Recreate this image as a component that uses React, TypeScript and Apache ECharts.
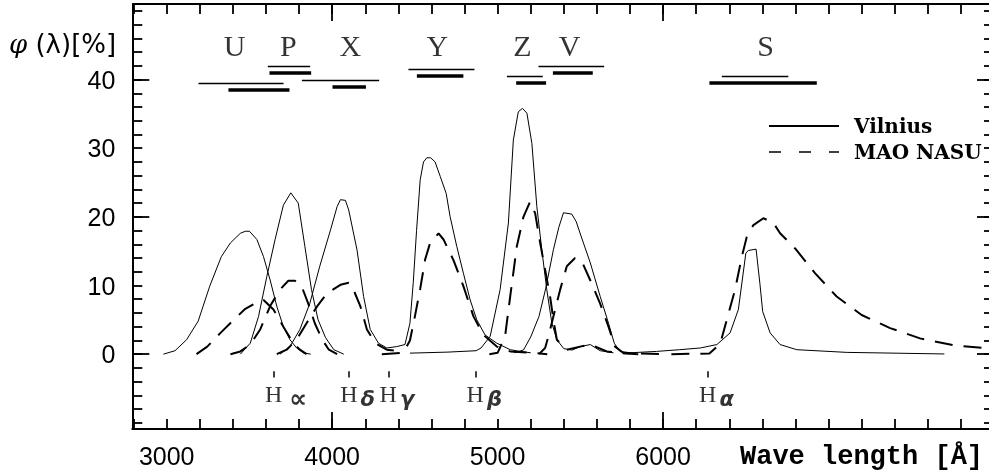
import { useEffect, useRef } from 'react';
import * as echarts from 'echarts';

// ---------- Data (wavelength in Å, response φ(λ) in %) ----------
const vilniusU = [[2980,0],[3050,0.5],[3120,2.1],[3190,4.8],[3260,9.9],[3330,14.2],[3385,16.2],[3445,17.6],[3475,17.9],[3500,17.9],[3545,16.7],[3585,14.2],[3625,10.8],[3665,7.0],[3705,4.0],[3745,2.1],[3785,0.9],[3825,0.2],[3870,0]];
const vilniusP = [[3445,0],[3505,1.6],[3555,5.5],[3605,11.3],[3655,16.7],[3705,21.7],[3750,23.5],[3795,22.0],[3835,15.7],[3875,9.4],[3915,5.0],[3960,2.4],[4010,0.65],[4070,0]];
const vilniusX = [[3685,0],[3745,1.1],[3805,3.6],[3865,7.4],[3925,12.8],[3990,18.1],[4030,21.5],[4050,22.5],[4080,22.4],[4100,21.0],[4150,15.2],[4190,8.4],[4230,3.6],[4280,1.6],[4330,0.9],[4390,1.1],[4440,1.4]];
const vilniusY = [[4440,1.4],[4470,4.5],[4490,10.4],[4510,18.0],[4532,25.4],[4552,28.0],[4572,28.6],[4595,28.6],[4622,28.0],[4653,25.9],[4689,23.4],[4713,20.0],[4753,15.7],[4793,11.8],[4834,7.9],[4874,5.0],[4924,2.8],[4995,1.6],[5076,0.65],[5136,0.4],[5200,0.2]];
const vilniusZ = [[4470,0.15],[4700,0.3],[4870,0.5],[4900,0.9],[4955,2.6],[5015,9.4],[5065,19.1],[5095,31.2],[5125,35.3],[5150,35.8],[5177,35.1],[5207,30.7],[5237,21.5],[5267,15.2],[5297,9.4],[5328,4.5],[5358,2.1],[5400,0.8],[5450,0.6],[5500,1.1],[5560,1.4],[5620,0.5],[5700,0.2]];
const vilniusV = [[5100,0.2],[5156,0.6],[5200,2.5],[5250,5.5],[5290,9.5],[5337,15.2],[5370,18.5],[5398,20.6],[5448,20.4],[5475,19.3],[5500,17.5],[5560,13.3],[5620,8.4],[5670,4.5],[5705,1.6],[5740,0.4],[5820,0.15]];
const vilniusS = [[5760,0.15],[5960,0.4],[6100,0.65],[6225,0.9],[6325,1.4],[6405,3.1],[6455,6.5],[6500,14.7],[6515,15.1],[6562,15.3],[6585,10.3],[6602,6.2],[6647,3.1],[6707,1.4],[6808,0.65],[7110,0.26],[7700,0.03]];

const maoU = [[3180,0],[3245,1.1],[3325,3.1],[3405,5.0],[3475,6.6],[3555,7.7],[3585,7.9],[3645,6.5],[3705,4.0],[3765,1.6],[3805,0.65],[3845,0]];
const maoP = [[3385,0],[3445,0.4],[3505,1.4],[3565,3.6],[3625,7.0],[3685,9.4],[3735,10.7],[3775,10.7],[3815,9.9],[3855,7.4],[3895,4.5],[3940,2.1],[3980,0.65],[4030,0]];
const maoX = [[3665,0],[3725,0.65],[3785,2.1],[3845,4.5],[3910,7.0],[3970,8.9],[4050,10.1],[4100,10.4],[4120,9.9],[4170,7.0],[4210,3.6],[4260,1.6],[4330,0.65],[4410,0.4]];
const maoY = [[4300,0],[4430,0.2],[4470,2.0],[4500,5.5],[4532,9.5],[4562,13.8],[4592,16.2],[4643,17.6],[4673,16.7],[4733,13.7],[4793,9.9],[4854,5.5],[4914,2.8],[4995,1.1],[5076,0.4],[5216,0.17],[5300,0]];
const maoZ = [[4950,0],[5000,0.2],[5045,2.6],[5076,8.4],[5116,15.7],[5156,20.0],[5196,22.2],[5227,20.5],[5257,16.2],[5287,12.3],[5317,8.4],[5337,5.0],[5358,2.1],[5418,0.65],[5498,1.1],[5559,1.4],[5660,0.4],[5740,0.17],[5850,0]];
const maoV = [[5250,0],[5287,0.9],[5307,2.6],[5337,5.5],[5378,9.4],[5418,12.8],[5468,14.0],[5509,13.5],[5559,10.8],[5619,7.4],[5670,4.0],[5710,1.1],[5760,0.17],[6000,0]];
const maoS = [[6050,0],[6280,0.1],[6345,1.5],[6385,5.0],[6435,9.4],[6476,14.2],[6506,17.1],[6546,18.8],[6606,19.8],[6667,19.1],[6707,17.6],[6798,15.4],[6918,11.8],[7049,8.4],[7200,5.7],[7372,3.8],[7553,2.3],[7754,1.3],[7955,0.87],[8000,0.8]];

// Filter names, label wavelengths, and band bars [from, to, level]
const filterNames = ['U', 'P', 'X', 'Y', 'Z', 'V', 'S'];
const filterLabelWave = [3410, 3735, 4110, 4635, 5150, 5435, 6620];
const filterLabelLevel = 44.9;
const thinBands = [[3192,3706,39.5],[3611,3867,42.0],[3817,4284,39.9],[4461,4860,41.5],[5056,5273,40.5],[5247,5644,42.0],[6355,6757,40.5]];
const thickBands = [[3373,3742,38.5],[3621,3873,41.0],[4002,4204,38.9],[4512,4793,40.5],[5112,5293,39.5],[5334,5575,41.0],[6280,6929,39.5]];

// Hydrogen line markers
const hydrogenNames = ['∝', 'δ', 'γ', 'β', 'α'];
const hydrogenWaves = [3648, 4103, 4341, 4867, 6272];
const hydrogenLabelLevel = -5.9;

// Axis ranges, ticks and labels
const xMin = 2792, xMax = 8000, yMin = -10.9, yMax = 51;
const xLabelValues = [3000, 4000, 5000, 6000];
const xMajorTicks = [4000, 6000, 8000];
const yLabelValues = [0, 10, 20, 30, 40];
const yMajorTicks = [0, 20, 40];
const xMinorTicks = [2800,3000,3200,3400,3600,3800,4000,4200,4400,4600,4800,5000,5200,5400,5600,5800,6000,6200,6400,6600,6800,7000,7200,7400,7600,7800,8000];
const yMinorTicks = [-10,-8,-6,-4,-2,0,2,4,6,8,10,12,14,16,18,20,22,24,26,28,30,32,34,36,38,40,42,44,46,48,50];

export default function App() {
  const ref = useRef<HTMLDivElement>(null);
  useEffect(() => {
    if (!ref.current) return;
    const chart = echarts.init(ref.current, null, { renderer: 'svg' });
    const black = '#000';
    const labelFont = { fontFamily: 'Liberation Sans', fontSize: 25, color: black };
    const gridBox = { left: 132.3, right: 6, top: 4, bottom: 46 };
    const pxPerX = (1000 - gridBox.left - gridBox.right) / (xMax - xMin);
    const pxPerY = (475 - gridBox.top - gridBox.bottom) / (yMax - yMin);
    const minorLen = 10, majorLen = 17;

    // top and right frame with inward ticks, plus long ticks on all sides
    const frame: any[] = [
      { coords: [[xMin, yMax], [xMax, yMax]], lineStyle: { width: 2 } },
      { coords: [[xMax, yMin], [xMax, yMax]], lineStyle: { width: 2 } },
    ];
    xMinorTicks.forEach((v) => frame.push({ coords: [[v, yMax], [v, yMax - minorLen / pxPerY]] }));
    yMinorTicks.forEach((v) => frame.push({ coords: [[xMax, v], [xMax - minorLen / pxPerX, v]] }));
    xMajorTicks.forEach((v) => {
      frame.push({ coords: [[v, yMin], [v, yMin + majorLen / pxPerY]] });
      frame.push({ coords: [[v, yMax], [v, yMax - majorLen / pxPerY]] });
    });
    yMajorTicks.forEach((v) => {
      frame.push({ coords: [[xMin, v], [xMin + majorLen / pxPerX, v]] });
      frame.push({ coords: [[xMax, v], [xMax - majorLen / pxPerX, v]] });
    });

    const solid = [vilniusU, vilniusP, vilniusX, vilniusY, vilniusZ, vilniusV, vilniusS].map((d) => ({
      type: 'line', name: 'Vilnius', data: d, symbol: 'none', showSymbol: false,
      itemStyle: { color: black }, lineStyle: { color: black, width: 1 },
    }));
    const dashed = [maoU, maoP, maoX, maoY, maoZ, maoV, maoS].map((d) => ({
      type: 'line', name: 'MAO NASU', data: d, symbol: 'none', showSymbol: false,
      itemStyle: { color: black }, lineStyle: { color: black, width: 2, type: [18, 11] },
    }));

    const option: any = {
      animation: false,
      grid: gridBox,
      xAxis: [{
        type: 'value', min: xMin, max: xMax, splitLine: { show: false },
        axisLine: { show: true, onZero: false, lineStyle: { color: black, width: 2 } },
        axisTick: { show: true, inside: true, length: minorLen, customValues: xMinorTicks, lineStyle: { color: black, width: 1.8 } },
        axisLabel: { show: true, customValues: xLabelValues, margin: 14, formatter: (v: number) => String(v), ...labelFont },
      }],
      yAxis: [{
        type: 'value', min: yMin, max: yMax, splitLine: { show: false },
        axisLine: { show: true, onZero: false, lineStyle: { color: black, width: 2 } },
        axisTick: { show: true, inside: true, length: minorLen, customValues: yMinorTicks, lineStyle: { color: black, width: 1.8 } },
        axisLabel: { show: true, customValues: yLabelValues, margin: 17, formatter: (v: number) => String(v), ...labelFont },
      }],
      legend: {
        orient: 'vertical', left: 763, top: 111, itemWidth: 70, itemHeight: 20, itemGap: 6,
        selectedMode: false,
        itemStyle: { opacity: 0 },
        data: [
          { name: 'Vilnius' },
          { name: 'MAO NASU', lineStyle: { type: [12, 18], width: 1.6 } },
        ],
        textStyle: { fontFamily: 'DejaVu Serif', fontWeight: 'bold', fontSize: 20, color: black, padding: [0, 0, 0, 10] },
      },
      graphic: [
        { type: 'text', x: 9, y: 44, style: { text: '{p|φ} (λ)[%]', rich: { p: { fontStyle: 'italic', fontFamily: 'DejaVu Serif', fontSize: 26 } }, font: '26px "DejaVu Sans"', fill: black, verticalAlign: 'middle', align: 'left' } },
        { type: 'text', x: 740, y: 457, style: { text: 'Wave length [Å]', font: 'bold 27px "Liberation Mono"', fill: black, verticalAlign: 'middle', align: 'left' } },
      ],
      series: [
        ...solid,
        ...dashed,
        { type: 'lines', coordinateSystem: 'cartesian2d', clip: false,
          lineStyle: { color: black, width: 1.8, opacity: 1 }, data: frame },
        { type: 'lines', coordinateSystem: 'cartesian2d',
          lineStyle: { color: black, width: 1.3, opacity: 1 },
          data: thinBands.map((b) => ({ coords: [[b[0], b[2]], [b[1], b[2]]] })) },
        { type: 'lines', coordinateSystem: 'cartesian2d',
          lineStyle: { color: black, width: 3.6, opacity: 1 },
          data: thickBands.map((b) => ({ coords: [[b[0], b[2]], [b[1], b[2]]] })) },
        { type: 'lines', coordinateSystem: 'cartesian2d',
          lineStyle: { color: black, width: 1.5, opacity: 1 },
          data: hydrogenWaves.map((w) => ({ coords: [[w, -2.5], [w, -3.4]] })) },
        { type: 'scatter', symbolSize: 1, itemStyle: { color: 'rgba(0,0,0,0)' },
          data: filterNames.map((n, i) => ({ name: n, value: [filterLabelWave[i], filterLabelLevel] })),
          label: { show: true, position: 'inside', formatter: '{b}', fontFamily: 'Liberation Serif', fontSize: 30, color: black } },
        { type: 'scatter', symbolSize: 1, itemStyle: { color: 'rgba(0,0,0,0)' },
          data: hydrogenNames.map((n, i) => ({ name: n, value: [hydrogenWaves[i], hydrogenLabelLevel] })),
          label: { show: true, position: [0, 0], align: 'left', verticalAlign: 'middle', offset: [-8.5, 0],
            formatter: (p: any) => (p.name === '∝' ? `{h|H}{t|∝}` : `{h|H}{s|${p.name}}`),
            rich: {
              h: { fontFamily: 'Liberation Serif', fontSize: 24, color: black },
              s: { fontFamily: 'DejaVu Sans', fontStyle: 'italic', fontWeight: 'bold', fontSize: 21, color: black, padding: [9, 0, 0, 3] },
              t: { fontFamily: 'DejaVu Sans', fontWeight: 'bold', fontSize: 25, color: black, padding: [9, 0, 0, 7] },
            } } },
      ],
    };
    chart.setOption(option);
    return () => chart.dispose();
  }, []);
  return <div ref={ref} style={{ position: 'fixed', left: 0, top: 0, width: 1000, height: 475 }} />;
}
